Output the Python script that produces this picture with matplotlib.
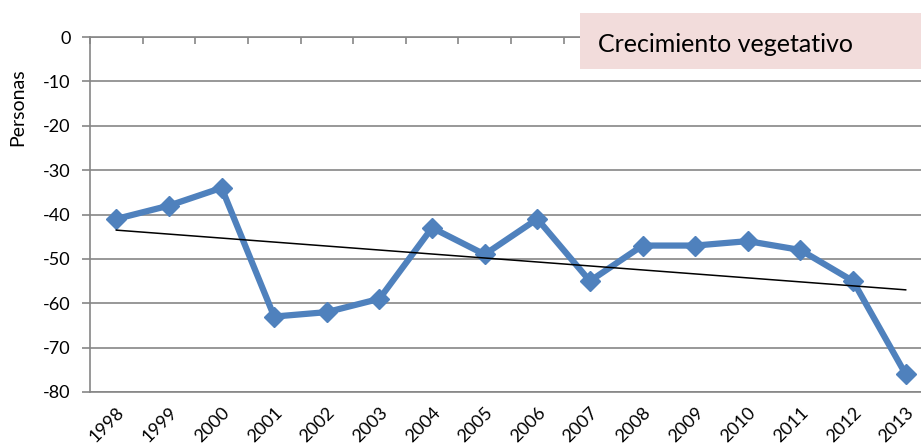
import numpy as np
import matplotlib.pyplot as plt
from matplotlib.patches import Rectangle

years = ['1998', '1999', '2000', '2001', '2002', '2003', '2004', '2005',
         '2006', '2007', '2008', '2009', '2010', '2011', '2012', '2013']
values = [-41, -38, -34, -63, -62, -59, -43, -49, -41, -55, -47, -47, -46, -48, -55, -76]
yticks = [0, -10, -20, -30, -40, -50, -60, -70, -80]

plt.rcParams['font.family'] = ['Lato', 'DejaVu Sans']

fig = plt.figure(figsize=(9.21, 4.46), dpi=100)
ax = fig.add_axes([90/921, 1-392/446, 842/921, 355/446])

x = np.arange(len(years))
ax.plot(x, values, color='#4F81BD', lw=4.5, marker='D', ms=10, zorder=3)

# linear trend line
k, b = np.polyfit(x, values, 1)
ax.plot(x, k*x + b, color='black', lw=1.1, zorder=4)

grid = '#868686'
ax.set_ylim(-80, 0)
ax.set_xlim(-0.5, len(years) - 0.5)
ax.set_yticks(yticks)
ax.set_yticklabels([str(v) for v in yticks], fontsize=13)
ax.yaxis.grid(True, color=grid, lw=1.2)
ax.set_axisbelow(True)
for s in ['left', 'top', 'bottom']:
    ax.spines[s].set_color(grid)
    ax.spines[s].set_linewidth(1.2)
ax.spines['right'].set_visible(False)

ax.set_xticks(x)
ax.set_xticklabels(years, fontsize=13, rotation=45, ha='right', rotation_mode='anchor')
ax.tick_params(axis='x', which='major', length=0, pad=9)
ax.set_xticks(np.arange(len(years)+1) - 0.5, minor=True)
ax.tick_params(axis='x', which='minor', top=True, bottom=False, direction='in',
               length=5, color=grid, width=1.2)
ax.tick_params(axis='y', length=6, color=grid, width=1.2, pad=8)

fig.text(18/921, 1-107/446, 'Personas', fontsize=14, rotation=90,
         va='center', ha='center')

fig.patches.append(Rectangle((580/921, 1-69/446), 341/921, 56/446,
                             transform=fig.transFigure, facecolor='#F2DCDB',
                             edgecolor='none', zorder=5))
fig.text(598/921, 1-44/446, 'Crecimiento vegetativo', fontsize=18,
         va='center', ha='left', zorder=6)

fig.savefig('out.png', dpi=100)
